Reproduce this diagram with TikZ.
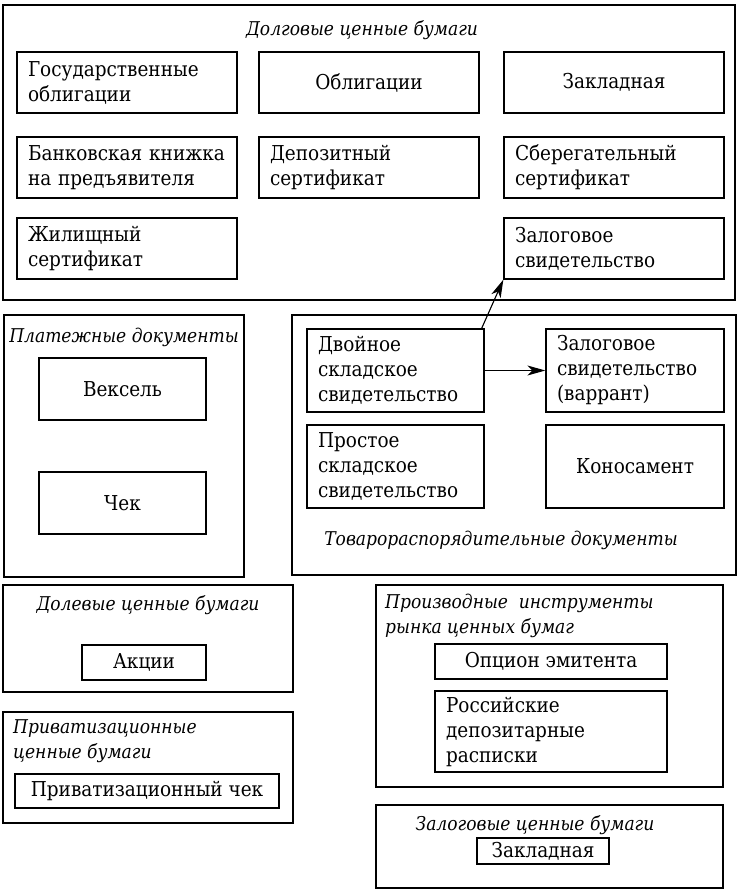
\documentclass[tikz,border=0pt]{standalone}
\usepackage{fontspec}
\setmainfont{DejaVu Serif Condensed}
\usetikzlibrary{arrows.meta}
\begin{document}
\begin{tikzpicture}[x=1pt,y=-1pt,
  frame/.style={draw,line width=1.3pt,inner sep=0pt},
  bx/.style={draw,line width=1.3pt,inner sep=0pt,font=\fontsize{20.5}{25}\selectfont},
  lbx/.style={bx,align=left,inner xsep=11pt},
  ttl/.style={font=\fontsize{19}{25}\selectfont\itshape,inner sep=0pt,anchor=base},
  lttl/.style={ttl,anchor=base west},
  arr/.style={line width=1.1pt,-{Stealth[length=18pt,width=10pt,inset=5pt]}}]
\useasboundingbox (0,0) rectangle (744,891);
% Долговые ценные бумаги
\node[frame,minimum width=732pt,minimum height=295pt] (debt) at (369,152.5) {};
\node[ttl] (debtT) at (362,36) {Долговые ценные бумаги};
\node[lbx,text width=198pt,minimum height=61pt] (gos) at (127,82.5) {Государственные\\облигации};
\node[bx,minimum width=220pt,minimum height=61pt] (obl) at (369,82.5) {Облигации};
\node[bx,minimum width=220pt,minimum height=61pt] (zakl) at (614,82.5) {Закладная};
\node[lbx,text width=198pt,minimum height=61pt] (bank) at (127,167.5) {Банковская книжка\\на предъявителя};
\node[lbx,text width=198pt,minimum height=61pt] (dep) at (369,167.5) {Депозитный\\сертификат};
\node[lbx,text width=198pt,minimum height=61pt] (sber) at (614,167.5) {Сберегательный\\сертификат};
\node[lbx,text width=198pt,minimum height=61pt] (zhil) at (127,248.5) {Жилищный\\сертификат};
\node[lbx,text width=198pt,minimum height=61pt] (zalsv) at (614,248.5) {Залоговое\\свидетельство};
% Платежные документы
\node[frame,minimum width=240pt,minimum height=262pt] (pay) at (124,446) {};
\node[ttl] (payT) at (124,342) {Платежные документы};
\node[bx,minimum width=167pt,minimum height=62pt] (veks) at (122.5,389) {Вексель};
\node[bx,minimum width=167pt,minimum height=62pt] (chek) at (122.5,503) {Чек};
% Товарораспорядительные документы
\node[frame,minimum width=444pt,minimum height=260pt] (goods) at (514,445) {};
\node[ttl] (goodsT) at (501,545) {Товарораспорядительные документы};
\node[lbx,text width=155pt,minimum height=83pt] (dvoin) at (395.5,370.5) {Двойное\\складское\\свидетельство};
\node[lbx,text width=155pt,minimum height=83pt] (prost) at (395.5,466.5) {Простое\\складское\\свидетельство};
\node[lbx,text width=156pt,minimum height=83pt] (varr) at (635,370.5) {Залоговое\\свидетельство\\(варрант)};
\node[bx,minimum width=178pt,minimum height=83pt] (konos) at (635,466.5) {Коносамент};
\draw[arr] (dvoin.east) -- (varr.west);
\draw[arr] ([xshift=-3pt]dvoin.north east) -- (zalsv.south west);
% Долевые ценные бумаги
\node[frame,minimum width=290pt,minimum height=107pt] (share) at (148,638.5) {};
\node[ttl] (shareT) at (148,610) {Долевые ценные бумаги};
\node[bx,minimum width=124pt,minimum height=35pt] (akc) at (144,662.5) {Акции};
% Приватизационные ценные бумаги
\node[frame,minimum width=290pt,minimum height=111pt] (priv) at (148,767.5) {};
\node[lttl,align=left] (privT) at (13,758) {Приватизационные\\ценные бумаги};
\node[bx,minimum width=264pt,minimum height=34pt] (privchek) at (147,791) {Приватизационный чек};
% Производные инструменты
\node[frame,minimum width=347pt,minimum height=202pt] (deriv) at (549.5,686) {};
\node[lttl,align=left] (derivT) at (385,633) {Производные\ \ инструменты\\рынка ценных бумаг};
\node[bx,minimum width=232pt,minimum height=35pt] (opc) at (551,661.5) {Опцион эмитента};
\node[lbx,text width=210pt,minimum height=81pt] (ros) at (551,731.5) {Российские\\депозитарные\\расписки};
% Залоговые ценные бумаги
\node[frame,minimum width=347pt,minimum height=83pt] (pledge) at (549.5,846.5) {};
\node[ttl] (pledgeT) at (535,830) {Залоговые ценные бумаги};
\node[bx,minimum width=132pt,minimum height=26pt] (zakl2) at (543,851) {Закладная};
\end{tikzpicture}
\end{document}
